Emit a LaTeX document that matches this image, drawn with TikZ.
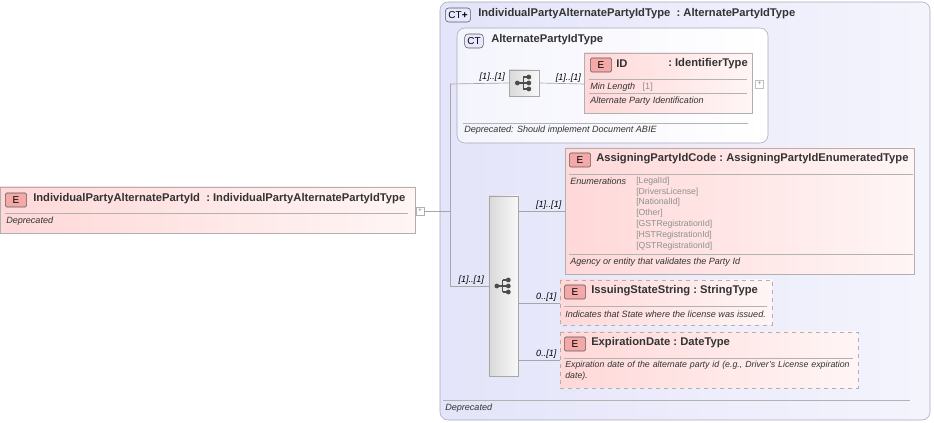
\documentclass[tikz,border=0pt]{standalone}
\usepackage{fontspec}
\setmainfont{Liberation Sans}
\usetikzlibrary{positioning}
\definecolor{ctbg}{HTML}{E4E4FA}
\definecolor{ctline}{HTML}{A8A8B8}
\definecolor{elpink}{HTML}{FFD8D8}
\definecolor{elline}{HTML}{B0B0B0}
\definecolor{badgeE}{HTML}{F4A8A8}
\definecolor{enumc}{HTML}{909090}
\newcommand\seqicon[1]{%
  \fill[gray!60!black] ([xshift=-5pt]#1) circle (1.8pt);
  \draw[gray!60!black,line width=0.8pt] ([xshift=-5pt]#1) -- ([xshift=-0.5pt]#1)
    ([xshift=-0.5pt,yshift=-4.5pt]#1) -- ([xshift=-0.5pt,yshift=4.5pt]#1);
  \foreach \dy in {-4.5,0,4.5}
    {\draw[gray!60!black,line width=0.8pt] ([xshift=-0.5pt,yshift=\dy pt]#1) -- ([xshift=3pt,yshift=\dy pt]#1);
     \fill[gray!60!black] ([xshift=3.6pt,yshift=\dy pt]#1) circle (1.8pt);}}
\begin{document}
\begin{tikzpicture}[x=0.75pt,y=-0.75pt,
    ct/.style = {draw=ctline, rounded corners=6pt, left color=ctbg, right color=ctbg!40},
   elm/.style = {draw=elline, left color=elpink, right color=elpink!25},
  opt/.style = {elm, dashed},
  seq/.style = {draw=gray!70, left color=gray!30, right color=gray!5},
badge/.style = {draw=gray!70!black, fill=badgeE, rounded corners=1pt, minimum width=16pt,
                minimum height=10.5pt, inner sep=0pt, font=\fontsize{7.5}{8}\selectfont},
ctbadge/.style = {badge, fill=ctbg!60!blue!20, rounded corners=2.5pt, minimum width=14pt},
  ttl/.style = {anchor=west, inner sep=0pt, font=\bfseries\fontsize{8.4}{9}\selectfont, text=black!80},
  sml/.style = {anchor=west, inner sep=0pt, font=\itshape\fontsize{6.8}{8}\selectfont, text=black!80},
  enm/.style = {anchor=west, inner sep=0pt, font=\fontsize{6.5}{7}\selectfont, text=enumc},
  crd/.style = {anchor=south, inner sep=1pt, font=\itshape\fontsize{6.8}{8}\selectfont},
  con/.style = {draw=gray!70, line width=0.5pt},
  sep/.style = {draw=gray!60, line width=0.4pt}
                        ]
\useasboundingbox (0,0) rectangle (934,423);
% outer complex type
\draw[ct] (440,2) rectangle (930,420);
\node (ctp) [ctbadge, minimum width=19pt] at (458,15) {CT\textbf{+}};
\node (ctpT) [ttl] at (478,14) {IndividualPartyAlternatePartyIdType\ \ :\ AlternatePartyIdType};
\draw[sep] (443,400) -- (910,400);
\node (dep1) [sml] at (445,408) {Deprecated};
% inner complex type
\draw[ct, left color=white!60!ctbg, right color=white] (457,28) rectangle (768,143);
\node (ctb) [ctbadge] at (474,41) {CT};
\node (ctbT) [ttl] at (491,40) {AlternatePartyIdType};
\draw[sep] (463,123) -- (748,123);
\node (dep2) [sml] at (464,130) {Deprecated: Should implement Document ABIE};
% root element
\draw[elm] (0,187) rectangle (415,233);
\node (eR) [badge] at (16,200) {E};
\node (eRT) [ttl] at (33,199) {IndividualPartyAlternatePartyId\ \ :\ IndividualPartyAlternatePartyIdType};
\draw[sep] (5,213) -- (408,213);
\node (dep3) [sml] at (6,221) {Deprecated};
\node (plR) [draw=gray!60, fill=white, minimum size=6pt, inner sep=0pt, font=\fontsize{5}{5}\selectfont, text=gray] at (420,211) {+};
% sequences
\node (seq1) [seq, minimum width=22.5pt, minimum height=19.5pt, inner sep=0pt] at (524,83) {};
\seqicon{seq1.center}
\node (seq2) [seq, minimum width=22pt, minimum height=135pt, inner sep=0pt] at (503.5,286) {};
\seqicon{seq2.center}
% ID element
\draw[elm] (584,53) rectangle (752,113);
\node (eID) [badge] at (601,65) {E};
\node (eIDT) [ttl] at (616,64) {ID};
\node (eIDt) [ttl, anchor=east] at (748,64) {:\ IdentifierType};
\draw[sep] (589,79) -- (747,79);
\node (mlen) [sml] at (590,87) {Min Length \ \ {\upshape\textcolor{enumc}{[1]}}};
\draw[sep] (589,93) -- (747,93);
\node (idd) [sml] at (590,101) {Alternate Party Identification};
\node (plI) [draw=gray!50, fill=white, minimum size=6pt, inner sep=0pt, font=\fontsize{5}{5}\selectfont, text=gray] at (759.5,84) {+};
% AssigningPartyIdCode
\draw[elm] (565,148) rectangle (914,274);
\node (eA) [badge] at (580,160) {E};
\node (eAT) [ttl] at (596,159) {AssigningPartyIdCode\ :\ AssigningPartyIdEnumeratedType};
\draw[sep] (569,174) -- (913,174);
\node (enmL) [sml] at (570,181) {Enumerations};
\foreach \v [count=\i] in {LegalId,DriversLicense,NationalId,Other,GSTRegistrationId,HSTRegistrationId,QSTRegistrationId}
  \node [enm] at (636,{170+10.9*\i}) {[\v]};
\draw[sep] (569,254) -- (913,254);
\node (aDesc) [sml] at (570,262) {Agency or entity that validates the Party Id};
% IssuingStateString
\draw[opt] (560,280) rectangle (772,325);
\node (eI) [badge] at (575,292) {E};
\node (eIT) [ttl] at (591,291) {IssuingStateString\ :\ StringType};
\draw[sep] (564,306) -- (767,306);
\node (iDesc) [sml] at (565,314) {Indicates that State where the license was issued.};
% ExpirationDate
\draw[opt] (560,332) rectangle (858,388);
\node (eE) [badge] at (575,344) {E};
\node (eET) [ttl] at (591,343) {ExpirationDate\ :\ DateType};
\draw[sep] (564,358) -- (853,358);
\node (eDesc) [sml, font=\itshape\fontsize{6.6}{8}\selectfont, align=left, text width=220pt] at (565,371) {Expiration date of the alternate party id (e.g., Driver's License expiration\\date).};
% connectors
\coordinate (br) at (450,211);
\coordinate (brT) at (450,84);
\coordinate (brB) at (450,286);
\draw[con] (plR) -- (br);
\draw[con] (brT) -- (brB);
\draw[con] (brT) -- node[crd, pos=0.72] {[1]..[1]} (seq1.west);
\draw[con] (seq1.east) -- node[crd, pos=0.65] {[1]..[1]} (584,84);
\draw[con] (brB) -- node[crd, pos=0.55] {[1]..[1]} (seq2.west);
\draw[con] (seq2.east |- 0,211) -- node[crd, pos=0.65] {[1]..[1]} (565,211);
\draw[con] (seq2.east |- 0,303) -- node[crd, pos=0.67] {0..[1]} (560,303);
\draw[con] (seq2.east |- 0,360) -- node[crd, pos=0.67] {0..[1]} (560,360);
\end{tikzpicture}
\end{document}
